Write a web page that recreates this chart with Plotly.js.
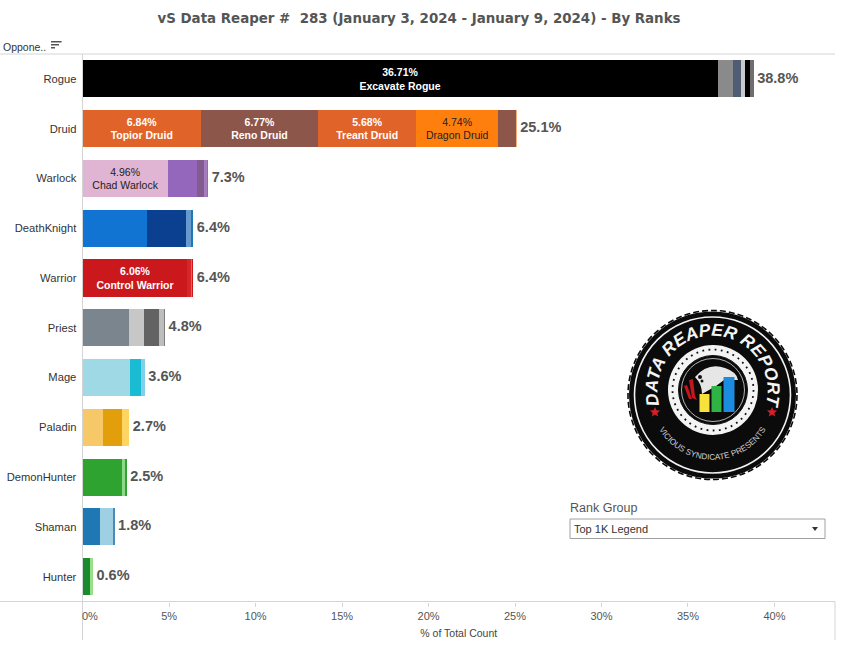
<!DOCTYPE html>
<html><head><meta charset="utf-8">
<script src="https://cdn.plot.ly/plotly-3.0.1.min.js"></script>
<style>html,body{margin:0;padding:0;background:#fff;width:851px;height:658px;overflow:hidden}
#c{position:absolute;left:0;top:0;width:851px;height:658px}
#logo{position:absolute;left:0;top:0;pointer-events:none}</style>
</head><body>
<div id="c"></div>
<svg id="logo" width="851" height="658" viewBox="0 0 851 658">
  <defs>
    <path id="arcTop" d="M 662.7 414.2 A 55 55 0 1 1 762.3 414.2"/>
    <path id="arcBot" d="M 655 421 A 62 62 0 0 0 770 421"/>
  </defs>
  <circle cx="712.5" cy="395" r="83.5" fill="#0b0b0b"/>
  <circle cx="712.5" cy="395" r="84.5" fill="none" stroke="#0b0b0b" stroke-width="1.6" stroke-dasharray="6 3"/>
  <circle cx="712.5" cy="395" r="78" fill="none" stroke="#f2f2f2" stroke-width="1.6"/>
  <circle cx="713" cy="390" r="45" fill="#f4f4f4"/>
  <circle cx="713" cy="390" r="40.5" fill="none" stroke="#111" stroke-width="1.8" stroke-dasharray="1.8 4.4"/>
  <circle cx="713" cy="390" r="34.5" fill="#0b0b0b" stroke="#111" stroke-width="1"/>
  <circle cx="713" cy="390" r="31.5" fill="none" stroke="#ddd" stroke-width="0.8"/>
  <path d="M 695 377 Q 708 362 725 368 Q 737 372 738 380 L 724 380 L 716 386 L 702 394 Q 702 384 695 377 Z" fill="#e6e6e6"/>
  <circle cx="700" cy="377" r="2" fill="#111"/><circle cx="702" cy="381" r="1.5" fill="#111"/>
  <path d="M 689 380 L 693 379 L 695 396 L 697 400 L 692 398 Z M 684 386 L 687 385 L 692 399 L 689 399 Z" fill="#c4161c"/>
  <rect x="699.5" y="394" width="10" height="18" fill="#f6e23a"/>
  <rect x="711.5" y="386" width="10" height="26" fill="#2fb344"/>
  <rect x="723.5" y="377" width="11" height="35" fill="#1c8ce0"/>
  <text font-family="'Liberation Sans',Arial,sans-serif" font-weight="700" font-style="italic" font-size="17.5" fill="#f4f4f4">
    <textPath href="#arcTop" startOffset="50%" text-anchor="middle">DATA REAPER REPORT</textPath>
  </text>
  <text font-family="'Liberation Sans',Arial,sans-serif" font-size="8.2" fill="#cfcfcf">
    <textPath href="#arcBot" startOffset="50%" text-anchor="middle">VICIOUS SYNDICATE PRESENTS</textPath>
  </text>
  <path d="M655 407l1.5 3.3 3.6.3-2.8 2.3.9 3.5-3.2-1.9-3.2 1.9.9-3.5-2.8-2.3 3.6-.3z" fill="#d3202a"/>
  <path d="M772 407l1.5 3.3 3.6.3-2.8 2.3.9 3.5-3.2-1.9-3.2 1.9.9-3.5-2.8-2.3 3.6-.3z" fill="#d3202a"/>
</svg>
<script>
const W = 851, H = 658;
const classes = ["Rogue","Druid","Warlock","DeathKnight","Warrior","Priest","Mage","Paladin","DemonHunter","Shaman","Hunter"];
const totalLabels = ["38.8%","25.1%","7.3%","6.4%","6.4%","4.8%","3.6%","2.7%","2.5%","1.8%","0.6%"];
const seg1 = [36.71,6.84,4.96,3.72,6.06,2.68,2.74,1.18,2.28,1.00,0.43];
const seg2 = [0.87,6.77,1.68,2.25,0.18,0.87,0.64,1.10,0.17,0.75,0.17];
const seg3 = [0.46,5.68,0.35,0.29,0.08,0.87,0.22,0.42,0.10,0.10,0];
const seg4 = [0.23,4.74,0.22,0.14,0.08,0.29,0,0,0,0,0];
const seg5 = [0.29,1.00,0.05,0,0,0.06,0,0,0,0,0];
const seg6 = [0.24,0.07,0,0,0,0,0,0,0,0,0];
const colors1 = ["#000000","#E0642A","#E0B5D3","#1274D2","#CB181D","#7B858E","#9FD9E6","#F6C868","#2FA32F","#1F77B4","#1B8A2E"];
const colors2 = ["#8A8A8A","#8C564B","#9467BD","#0B3F8F","#D62728","#C7C7C7","#1ABCD4","#E39E0B","#8FD88A","#9ECFE3","#98DF8A"];
const colors3 = ["#4E5D75","#E0642A","#845B8E","#6699CC","#F25A5A","#636363","#7FD0E8","#FFD562","#2FA32F","#4A8AB8","#98DF8A"];
const colors4 = ["#C9C9C9","#FF7F0E","#A47DC0","#1F77B4","#CB181D","#BDBDBD","#fff","#fff","#fff","#fff","#fff"];
const colors5 = ["#000000","#8C564B","#9467BD","#fff","#fff","#7F7F7F","#fff","#fff","#fff","#fff","#fff"];
const colors6 = ["#6E6E6E","#F7B27A","#fff","#fff","#fff","#fff","#fff","#fff","#fff","#fff","#fff"];
const text1 = ["36.71%<br>Excavate Rogue","6.84%<br>Topior Druid","4.96%<br>Chad Warlock","","6.06%<br>Control Warrior","","","","","",""];
const text2 = ["","6.77%<br>Reno Druid","","","","","","","","",""];
const text3 = ["","5.68%<br>Treant Druid","","","","","","","","",""];
const text4 = ["","4.74%<br>Dragon Druid","","","","","","","","",""];
const textColors1 = ["#fff","#fff","#222","#fff","#fff","#fff","#fff","#fff","#fff","#fff","#fff"];
const textColors4 = ["#fff","#222","#fff","#fff","#fff","#fff","#fff","#fff","#fff","#fff","#fff"];
const xTicks = [5,10,15,20,25,30,35,40];
const xTickLabels = ["5%","10%","15%","20%","25%","30%","35%","40%"];

const FONT = "'Liberation Sans',Arial,sans-serif";
const segs = [[seg1,colors1,text1,textColors1],[seg2,colors2,text2,textColors1],[seg3,colors3,text3,textColors1],[seg4,colors4,text4,textColors4],[seg5,colors5,null,textColors1],[seg6,colors6,null,textColors1]];
const traces = segs.map(([v,c,t,tc]) => ({
  type:"bar", orientation:"h", y:classes, x:v, width:0.745,
  marker:{color:c,line:{width:0}},
  text:t||undefined, textposition:t?"inside":"none", insidetextanchor:"middle", textangle:0,
  constraintext:"none",
  textfont:{family:FONT,size:10.5,color:tc,weight:tc.map(k=>k==="#fff"?700:400)},
  hoverinfo:"skip"
}));
const totals = classes.map((_,i)=>segs.reduce((a,s)=>a+s[0][i],0));
traces.push({type:"scatter",mode:"markers+text",x:totals,y:classes,text:totalLabels,textposition:"middle right",
  marker:{size:4,opacity:0},
  textfont:{family:FONT,size:14.5,color:"#555",weight:700},hoverinfo:"skip",cliponaxis:false});

const px = x=>x/W, py = y=>1-y/H;
const lineC = "#d4d4d4";
const hline=(y,x0,x1,c)=>({type:"line",xref:"paper",yref:"paper",x0:px(x0),x1:px(x1),y0:py(y),y1:py(y),line:{color:c||lineC,width:1}});
const vline=(x,y0,y1,c)=>({type:"line",xref:"paper",yref:"paper",x0:px(x),x1:px(x),y0:py(y0),y1:py(y1),line:{color:c||lineC,width:1}});
const note=(x,y,text,size,color,extra)=>Object.assign({xref:"paper",yref:"paper",x:px(x),y:py(y),text,showarrow:false,xanchor:"left",yanchor:"middle",font:{family:FONT,size,color}},extra||{});

const layout = {
  width:W,height:H,margin:{l:0,r:0,t:0,b:0,pad:0},paper_bgcolor:"#fff",plot_bgcolor:"#fff",
  barmode:"stack",showlegend:false,
  title:{text:"vS Data Reaper #\u00a0\u00a0283 (January 3, 2024 - January 9, 2024) - By Ranks",x:419/W,xanchor:"center",y:1-18/H,yanchor:"middle",
    font:{family:"'DejaVu Sans',sans-serif",size:13.4,weight:700,color:"#555"}},
  xaxis:{domain:[82.6/W,835/W],range:[0,43.5],tickmode:"array",tickvals:xTicks,ticktext:xTickLabels,showgrid:false,zeroline:false,
    ticks:"outside",ticklen:4,tickcolor:lineC,tickfont:{family:FONT,size:11,color:"#555"},
    title:{text:"% of Total Count",font:{family:FONT,size:10.5,color:"#444"},standoff:8},automargin:false},
  yaxis:{domain:[1-601.5/H,1-54/H],autorange:false,range:[10.5,-0.5],type:"category",categoryorder:"array",categoryarray:classes,
    showgrid:false,zeroline:false,ticks:"outside",ticklen:3,tickcolor:"rgba(0,0,0,0)",tickfont:{family:FONT,size:11.2,color:"#333"},automargin:false},
  shapes:[
    hline(54,0,835),hline(601.5,0,835),vline(82.5,54,640),vline(835,601.5,640),
    {type:"rect",xref:"paper",yref:"paper",x0:px(570),x1:px(825),y0:py(519),y1:py(538.5),line:{color:"#a0a0a0",width:1},fillcolor:"#fff"},
    {type:"path",xref:"paper",yref:"paper",path:`M ${px(812)} ${py(527)} L ${px(818)} ${py(527)} L ${px(815)} ${py(531)} Z`,fillcolor:"#333",line:{width:0}},
    hline(41.5,51,61.5,"#555"),hline(44.5,51,59,"#555"),hline(47.5,51,55,"#555"),
    hline(42,51,61.5,"#555"),hline(45,51,59,"#555"),hline(48,51,55,"#555")
  ],
  annotations:[
    note(80,616,"0%",11,"#555"),
    note(1,47.5,"Oppone..",10.5,"#333"),
    note(568,508,"Rank Group",12.5,"#555"),
    note(572,529,"Top 1K Legend",11,"#333")
  ]
};
Plotly.newPlot("c",traces,layout,{displayModeBar:false,staticPlot:true});
</script>
</body></html>
